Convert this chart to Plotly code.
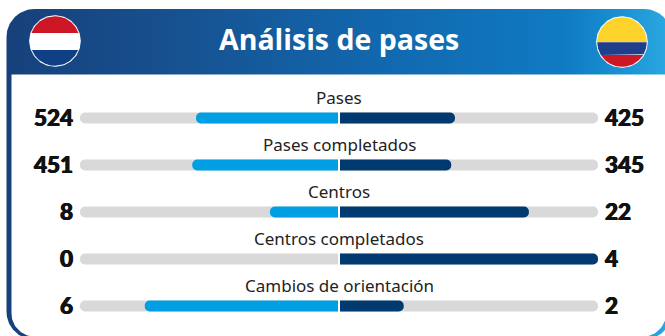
import numpy as np
import plotly.graph_objects as go

# ---- data ----
categories = ["Pases", "Pases completados", "Centros", "Centros completados", "Cambios de orientación"]
netherlands = [524, 451, 8, 0, 6]
colombia = [425, 345, 22, 4, 2]
title = "Análisis de pases"

LEFT_BLUE = "#009FE3"
RIGHT_BLUE = "#003A70"
TRACK = "#D9D9D9"
W, H = 665, 336
TRACK_L, TRACK_R = 80, 598
ROW_TOP, ROW_H = 94.5, 47


def rrect(x0, y0, x1, y1, rtl, rtr, rbr, rbl):
    def arc(cx, cy, r, a0, a1):
        t = np.radians(np.linspace(a0, a1, 24))
        return cx + r * np.cos(t), cy + r * np.sin(t)
    parts = [arc(x0 + rtl, y0 + rtl, rtl, 180, 270), arc(x1 - rtr, y0 + rtr, rtr, 270, 360),
             arc(x1 - rbr, y1 - rbr, rbr, 0, 90), arc(x0 + rbl, y1 - rbl, rbl, 90, 180)]
    xs = np.concatenate([p[0] for p in parts])
    ys = np.concatenate([p[1] for p in parts])
    return np.append(xs, xs[0]), np.append(ys, ys[0])


def band(cx, cy, r, y0, y1):
    a0, a1 = max(y0, cy - r), min(y1, cy + r)
    ys = np.linspace(a0, a1, 40)
    dx = np.sqrt(np.maximum(r ** 2 - (ys - cy) ** 2, 0))
    return np.concatenate([cx - dx, (cx + dx)[::-1]]), np.concatenate([ys, ys[::-1]])


fig = go.Figure()


def poly(x, y, color=None, **kw):
    fig.add_trace(go.Scatter(x=x, y=y, mode="lines", fill="toself", line=dict(width=0),
                             fillcolor=color, hoverinfo="skip", showlegend=False,
                             xaxis="x", yaxis="y", **kw))


# card
cx, cy = rrect(6.5, 9, 672, 339.5, 28, 28, 28, 28)
poly(cx, cy, fillgradient=dict(type="horizontal", start=0, stop=W,
     colorscale=[[0, "#16407A"], [0.25, "#17508F"], [0.55, "#1266AC"], [0.85, "#0F7BC3"], [0.93, "#1A90D2"], [1, "#2AA6E0"]]))
ix, iy = rrect(11.5, 74.5, 666, 336.5, 0, 0, 23, 23)
poly(ix, iy, "#FFFFFF")

# flags
for fx, fy, stripes in [
    (55, 41, [(0, 33, "#CE1725"), (33, 50, "#FFFFFF"), (50, 99, "#0F3F85")]),
    (622, 42, [(0, 42.3, "#FDD22A"), (42.3, 55, "#1F3F8C"), (55, 99, "#CE1725")]),
]:
    t = np.linspace(0, 2 * np.pi, 120)
    poly(fx + 25.8 * np.cos(t), fy + 25.8 * np.sin(t), "#FFFFFF")
    for y0, y1, col in stripes:
        bx, by = band(fx, fy, 24.8, y0, y1)
        poly(bx, by, col)

# tracks
for sign, name in [(-1, "l"), (1, "r")]:
    fig.add_trace(go.Bar(y=categories, x=[sign] * len(categories), orientation="h", marker=dict(color=TRACK, line_width=0),
                         xaxis="x2", yaxis="y2", hoverinfo="skip", showlegend=False))

# value bars
totals = [a + b for a, b in zip(netherlands, colombia)]
fig.add_trace(go.Bar(y=categories, x=[-a / t for a, t in zip(netherlands, totals)], orientation="h",
                     marker=dict(color=LEFT_BLUE, line_width=0), xaxis="x3", yaxis="y3",
                     name="Países Bajos", showlegend=False))
fig.add_trace(go.Bar(y=categories, x=[b / t for b, t in zip(colombia, totals)], orientation="h",
                     marker=dict(color=RIGHT_BLUE, line_width=0), xaxis="x3", yaxis="y3",
                     name="Colombia", showlegend=False))

dom_x = [TRACK_L / W, TRACK_R / W]
dom_y = [1 - (ROW_TOP + ROW_H * len(categories)) / H, 1 - ROW_TOP / H]
hidden = dict(visible=False, fixedrange=True)
cat_axis = dict(hidden, domain=dom_y, type="category", categoryorder="array", categoryarray=categories, autorange=False,
                range=[len(categories) - 0.5, -0.5])
fig.update_layout(
    width=W, height=H, margin=dict(l=0, r=0, t=0, b=0), paper_bgcolor="white", plot_bgcolor="rgba(0,0,0,0)",
    barmode="relative", bargap=1 - 11 / ROW_H, barcornerradius=5.5, showlegend=False,
    xaxis=dict(hidden, range=[0, W], domain=[0, 1]),
    yaxis=dict(hidden, range=[H, 0], domain=[0, 1]),
    xaxis2=dict(hidden, range=[-1, 1], domain=dom_x, anchor="y2"),
    yaxis2=dict(cat_axis, anchor="x2"),
    xaxis3=dict(hidden, range=[-1, 1], domain=dom_x, anchor="y3"),
    yaxis3=dict(cat_axis, anchor="x3"),
)

# white split at the centre of each bar
for i in range(len(categories)):
    fig.add_shape(type="line", xref="x3", yref="y3", x0=0, x1=0, y0=i - 0.13, y1=i + 0.13,
                  line=dict(color="white", width=2), layer="above")

LABEL_FONT = "Noto Sans"
NUM_FONT = "Lato"
HEAVY = "0.5px 0 0 #111111, -0.5px 0 0 #111111"
fig.add_annotation(x=338.5, y=38.5, xref="x", yref="y", text=title, showarrow=False,
                   font=dict(family="Open Sans", size=28.5, color="white", weight=700))
for i, cat in enumerate(categories):
    yc = ROW_TOP + ROW_H * (i + 0.5)
    fig.add_annotation(x=339, y=yc - 20.5, xref="x", yref="y", text=cat, showarrow=False,
                       font=dict(family=LABEL_FONT, size=17, color="#222222"))
    fig.add_annotation(x=75, y=yc - 0.5, xref="x", yref="y", text=str(netherlands[i]), showarrow=False, xanchor="right",
                       font=dict(family=NUM_FONT, size=22.5, color="#111111", weight=900, shadow=HEAVY))
    fig.add_annotation(x=603, y=yc - 0.5, xref="x", yref="y", text=str(colombia[i]), showarrow=False, xanchor="left",
                       font=dict(family=NUM_FONT, size=22.5, color="#111111", weight=900, shadow=HEAVY))

fig.write_html("out.html", config=dict(displayModeBar=False),
               post_script="document.body.style.margin='0';document.body.style.overflow='hidden';window.dispatchEvent(new Event('resize'));")
